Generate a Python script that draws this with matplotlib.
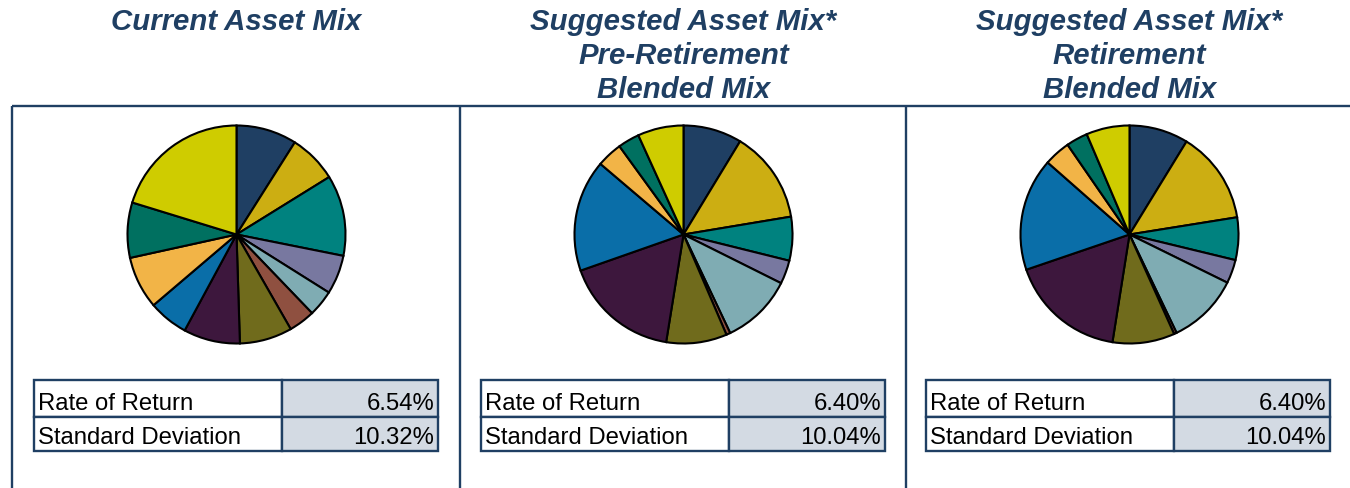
import matplotlib.pyplot as plt
from matplotlib.patches import Rectangle

# slice shares (%), clockwise from 12 o'clock
current_mix = [9.0, 7.2, 12.0, 5.8, 3.9, 3.9, 7.8, 8.4, 5.9, 7.8, 8.2, 20.3]
pre_retirement_mix = [8.7, 13.7, 6.5, 3.5, 10.6, 0.6, 9.0, 17.1, 16.6, 3.8, 3.2, 6.8]
retirement_mix = [8.75, 13.7, 6.3, 3.5, 10.6, 0.4, 9.2, 17.25, 16.7, 3.9, 3.2, 6.4]

slice_colors = ['#1F3F63', '#CCAE12', '#00827F', '#7878A0', '#7FACB3', '#8F5040',
                '#706B1C', '#3D173D', '#0A6EA8', '#F2B447', '#007060', '#CFCC00']

titles = [['Current Asset Mix'],
          ['Suggested Asset Mix*', 'Pre-Retirement', 'Blended Mix'],
          ['Suggested Asset Mix*', 'Retirement', 'Blended Mix']]

row_labels = ['Rate of Return', 'Standard Deviation']
rate_of_return = ['6.54%', '6.40%', '6.40%']
std_deviation = ['10.32%', '10.04%', '10.04%']

NAVY = '#1F3F63'
CELL_BG = '#D3DAE3'
FONT = 'Liberation Sans'

W, H = 1350, 488
fig = plt.figure(figsize=(W / 100, H / 100), dpi=100)

# overlay axes in pixel coords for frame, titles and tables
ov = fig.add_axes([0, 0, 1, 1])
ov.set_xlim(0, W)
ov.set_ylim(H, 0)
ov.axis('off')

# panel frame
ov.plot([12, W], [106, 106], color=NAVY, lw=1.7, solid_capstyle='butt')
for x in [12, 460, 906]:
    ov.plot([x, x], [106, H], color=NAVY, lw=1.7, solid_capstyle='butt')

centers = [236.5, 683.5, 1129.5]
pie_cy = 234.5
radius = 109
mixes = [current_mix, pre_retirement_mix, retirement_mix]
table_left = [34, 481, 926]
table_w = 404
col_split = 248
rows_y = [379.5, 416.5, 451]

for i, cx in enumerate(centers):
    # titles
    for j, line in enumerate(titles[i]):
        ov.text(cx, 30.5 + j * 34, line, ha='center', va='baseline',
                fontsize=21.2, fontweight='bold', fontstyle='italic',
                color=NAVY, family=FONT)

    # pie
    pad = 1.03
    ax = fig.add_axes([(cx - radius * pad) / W, (H - pie_cy - radius * pad) / H,
                       2 * radius * pad / W, 2 * radius * pad / H])
    ax.pie(mixes[i], colors=slice_colors, startangle=90, counterclock=False,
           wedgeprops=dict(edgecolor='black', linewidth=1.5))
    ax.set_xlim(-pad, pad)
    ax.set_ylim(-pad, pad)
    ax.set_aspect('equal')
    ax.axis('off')

    # stats table
    x0 = table_left[i]
    vals = [rate_of_return[i], std_deviation[i]]
    for r in range(2):
        y0, y1 = rows_y[r], rows_y[r + 1]
        ov.add_patch(Rectangle((x0, y0), col_split, y1 - y0, facecolor='white',
                               edgecolor=NAVY, lw=1.7))
        ov.add_patch(Rectangle((x0 + col_split, y0), table_w - col_split, y1 - y0,
                               facecolor=CELL_BG, edgecolor=NAVY, lw=1.7))
        ov.text(x0 + 4, y1 - 6.5, row_labels[r], ha='left', va='baseline',
                fontsize=17.2, color='black', family=FONT)
        ov.text(x0 + table_w - 4, y1 - 6.5, vals[r], ha='right', va='baseline',
                fontsize=17.2, color='black', family=FONT)

fig.savefig('out.png', dpi=100)
